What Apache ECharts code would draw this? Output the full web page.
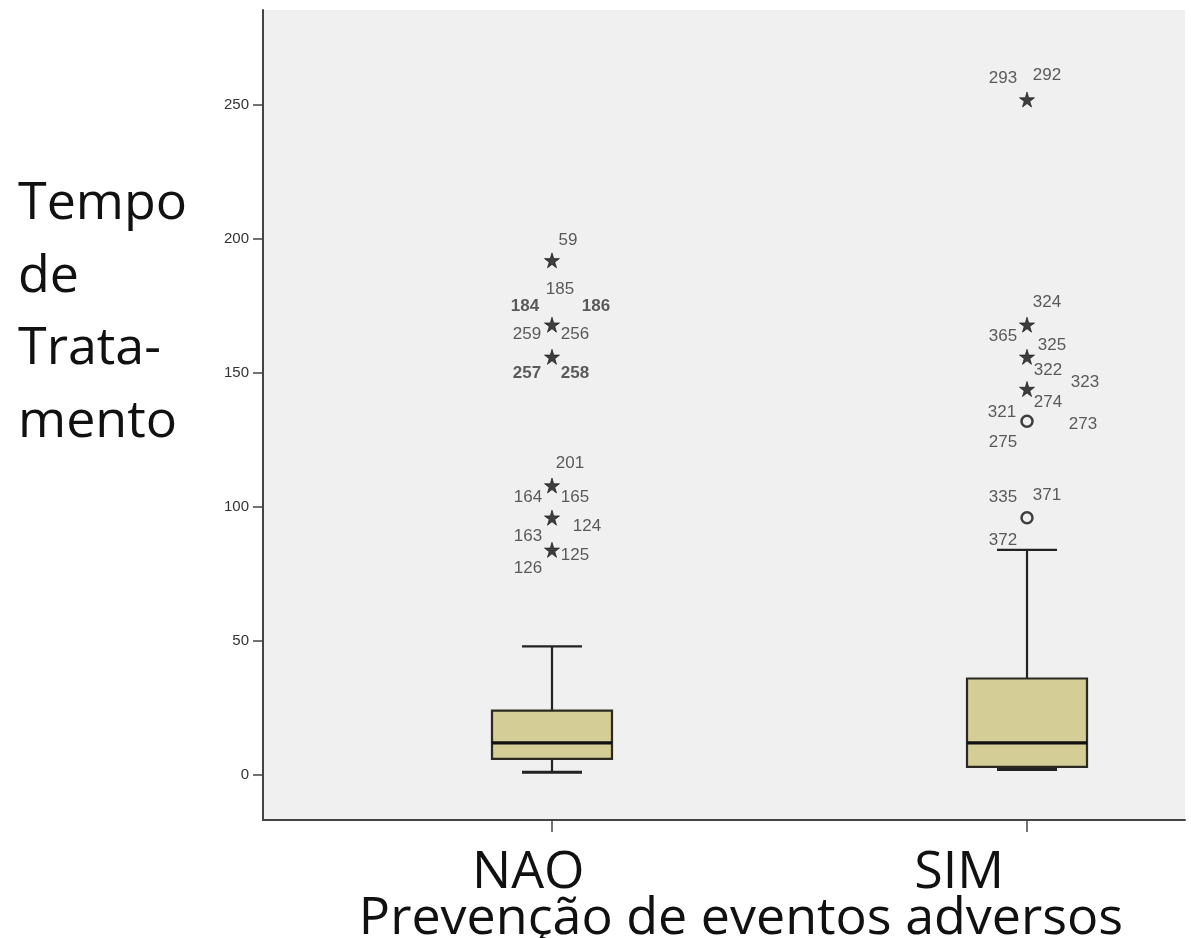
<!DOCTYPE html>
<html>
<head>
<meta charset="utf-8">
<script src="https://cdn.jsdelivr.net/npm/echarts@6/dist/echarts.min.js"></script>
<style>
  html, body { margin: 0; padding: 0; background: #fff; }
  #chart { width: 1191px; height: 938px; }
</style>
</head>
<body>
<div id="chart"></div>
<script>
// categorias e resumo do boxplot
var categories = ['NAO', 'SIM'];
var boxMin = [1, 2];
var boxQ1 = [6, 3];
var boxMedian = [12, 12];
var boxQ3 = [24, 36];
var boxMax = [48, 84];
var yTicks = [0, 50, 100, 150, 200, 250];

// outliers (valor, tipo, casos)
var naoOutliers = [84, 96, 108, 156, 168, 192];
var naoOutlierType = ['extreme', 'extreme', 'extreme', 'extreme', 'extreme', 'extreme'];
var naoCases = [['125', '126'], ['124', '163'], ['201', '164', '165'], ['257', '258'], ['185', '184', '186', '259', '256'], ['59']];

var simOutliers = [96, 132, 144, 156, 168, 252];
var simOutlierType = ['out', 'out', 'extreme', 'extreme', 'extreme', 'extreme'];
var simCases = [['335', '371', '372'], ['321', '273', '275'], ['274'], ['325', '322', '323'], ['324', '365'], ['293', '292']];

// posição dos rótulos em relação ao ponto (px)
var caseOffset = {
    '125': [23, 5], '126': [-24, 18], '124': [35, 9], '163': [-24, 19],
    '201': [18, -22], '164': [-24, 12], '165': [23, 12],
    '257': [-25, 16], '258': [23, 16],
    '185': [8, -35], '184': [-27, -18], '186': [44, -18], '259': [-25, 10], '256': [23, 10],
    '59': [16, -20],
    '335': [-24, -20], '371': [20, -22], '372': [-24, 23],
    '321': [-25, -9], '273': [56, 3], '275': [-24, 21],
    '274': [21, 13],
    '325': [25, -12], '322': [21, 13], '323': [58, 25],
    '324': [20, -22], '365': [-24, 12],
    '293': [-24, -21], '292': [20, -24]
};
var boldCases = ['184', '186', '257', '258'];
// onde os nomes das categorias ficam (deslocados das marcas, como no original)
var catLabelPos = [-0.05, 0.857];

var starPath = 'path://M50,0 L61,35 L98,35 L68,57 L79,91 L50,70 L21,91 L32,57 L2,35 L39,35 Z';

var boxData = categories.map(function (c, i) {
    return [i, boxMin[i], boxQ1[i], boxMedian[i], boxQ3[i], boxMax[i]];
});

var outlierData = [];
var labelData = [];
[[naoOutliers, naoOutlierType, naoCases], [simOutliers, simOutlierType, simCases]].forEach(function (grp, ci) {
    grp[0].forEach(function (v, k) {
        var extreme = grp[1][k] === 'extreme';
        outlierData.push({
            value: [ci, v],
            symbol: extreme ? starPath : 'circle',
            symbolSize: extreme ? 15 : 11,
            itemStyle: extreme
                ? { color: '#111', borderColor: '#111', borderWidth: 0.8 }
                : { color: 'rgba(0,0,0,0)', borderColor: '#111', borderWidth: 2.5 }
        });
        grp[2][k].forEach(function (cs) {
            labelData.push({
                value: [ci, v],
                label: {
                    offset: caseOffset[cs],
                    formatter: cs,
                    fontWeight: boldCases.indexOf(cs) >= 0 ? 'bold' : 'normal'
                }
            });
        });
    });
});

var myChart = echarts.init(document.getElementById('chart'));

var option = {
    backgroundColor: '#fff',
    animation: false,
    title: {
        text: 'Tempo\nde\nTrata-\nmento',
        left: 13,
        top: 163,
        textStyle: {
            fontFamily: 'Open Sans',
            fontSize: 52,
            fontWeight: 'normal',
            lineHeight: 72.5,
            color: '#111'
        }
    },
    grid: {
        left: 263,
        right: 6,
        top: 10,
        bottom: 118,
        outerBoundsMode: 'none',
        containLabel: false,
        show: true,
        backgroundColor: '#f0f0f0',
        borderWidth: 0
    },
    xAxis: {
        type: 'value',
        min: -0.6084,
        max: 1.3326,
        splitLine: { show: false },
        axisLine: { show: true, onZero: false, lineStyle: { color: '#444', width: 2 } },
        axisTick: { show: true, customValues: [0, 1], length: 12, lineStyle: { color: '#444', width: 1.5 } },
        axisLabel: {
            customValues: catLabelPos,
            formatter: function (v) { return categories[v < 0.5 ? 0 : 1]; },
            margin: 27,
            fontFamily: 'Open Sans',
            fontSize: 52,
            color: '#111'
        },
        name: 'Prevenção de eventos adversos',
        nameLocation: 'middle',
        nameGap: 73,
        nameMoveOverlap: false,
        nameTextStyle: {
            fontFamily: 'Open Sans',
            fontSize: 52,
            color: '#111',
            padding: [0, 0, 0, 34]
        }
    },
    yAxis: {
        type: 'value',
        min: -16.8,
        max: 285.4,
        splitLine: { show: false },
        axisLine: { show: true, onZero: false, lineStyle: { color: '#444', width: 2 } },
        axisTick: { show: true, customValues: yTicks, length: 10, lineStyle: { color: '#444', width: 1.5 } },
        axisLabel: {
            customValues: yTicks,
            margin: 14,
            fontFamily: 'Liberation Sans',
            fontSize: 15,
            color: '#333'
        }
    },
    series: [
        {
            type: 'custom',
            data: boxData,
            encode: { x: 0, y: [1, 2, 3, 4, 5] },
            renderItem: function (params, api) {
                var x = api.value(0);
                var pMin = api.coord([x, api.value(1)]);
                var pQ1 = api.coord([x, api.value(2)]);
                var pMed = api.coord([x, api.value(3)]);
                var pQ3 = api.coord([x, api.value(4)]);
                var pMax = api.coord([x, api.value(5)]);
                var cx = pMin[0];
                var hb = 60, hc = 30;
                var line = { stroke: '#222', lineWidth: 2.2 };
                return {
                    type: 'group',
                    children: [
                        { type: 'line', shape: { x1: cx, y1: pQ3[1], x2: cx, y2: pMax[1] }, style: line },
                        { type: 'line', shape: { x1: cx - hc, y1: pMax[1], x2: cx + hc, y2: pMax[1] }, style: line },
                        { type: 'line', shape: { x1: cx, y1: pQ1[1], x2: cx, y2: pMin[1] }, style: line },
                        { type: 'line', shape: { x1: cx - hc, y1: pMin[1], x2: cx + hc, y2: pMin[1] }, style: { stroke: '#222', lineWidth: 3 } },
                        {
                            type: 'rect',
                            shape: { x: cx - hb, y: pQ3[1], width: hb * 2, height: pQ1[1] - pQ3[1] },
                            style: { fill: '#d4cd96', stroke: '#2a2a22', lineWidth: 2.2 }
                        },
                        { type: 'line', shape: { x1: cx - hb, y1: pMed[1], x2: cx + hb, y2: pMed[1] }, style: { stroke: '#111', lineWidth: 3.2 } }
                    ]
                };
            }
        },
        {
            type: 'scatter',
            data: outlierData,
            z: 3
        },
        {
            type: 'scatter',
            data: labelData,
            symbolSize: 1,
            itemStyle: { color: 'rgba(0,0,0,0)' },
            z: 4,
            label: {
                show: true,
                position: 'inside',
                fontFamily: 'Liberation Sans',
                fontSize: 17,
                color: '#333'
            }
        }
    ]
};
myChart.setOption(option);
</script>
</body>
</html>
